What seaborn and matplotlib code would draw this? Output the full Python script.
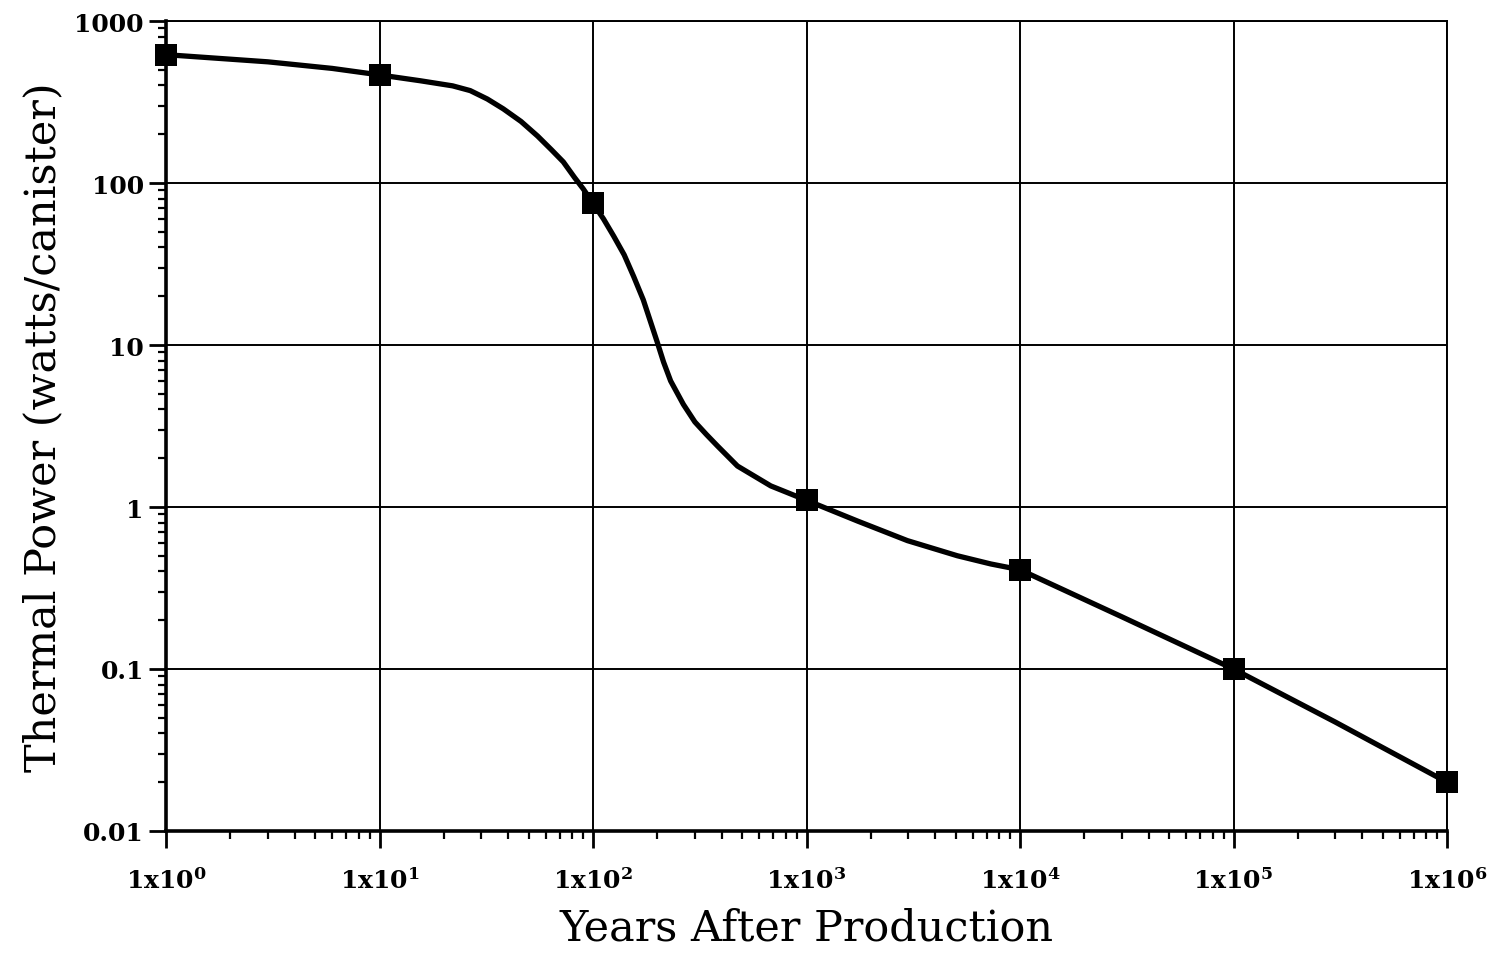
import numpy as np
import pandas as pd
import matplotlib
matplotlib.use("Agg")
import matplotlib.pyplot as plt
import seaborn as sns
from matplotlib.ticker import LogLocator, FixedLocator, FixedFormatter, NullFormatter

# Marker points (years, watts/canister)
marker_years = [1, 10, 100, 1000, 1e4, 1e5, 1e6]
marker_power = [620, 465, 75, 1.1, 0.41, 0.10, 0.020]

# Curve points
curve_years = [1, 3, 6, 10, 15.5, 22, 26.6, 32, 38, 46, 55, 64, 72.6, 82, 90, 100,
               112, 125, 140, 155, 172, 186, 200, 214, 231, 265, 300, 340, 383, 475, 680,
               1000, 1730, 2970, 5090, 7300, 10000, 30000, 100000, 300000, 1000000]
curve_power = [620, 560, 510, 465, 428, 398, 372, 330, 287, 240, 195, 160, 135, 108, 92, 75,
               60, 47, 36, 26.5, 19.0, 13.9, 10.4, 7.85, 6.0, 4.3, 3.35, 2.8, 2.38, 1.79, 1.35,
               1.1, 0.82, 0.62, 0.50, 0.445, 0.41, 0.21, 0.10, 0.047, 0.020]

x_ticks = [1, 10, 100, 1000, 1e4, 1e5, 1e6]
x_tick_labels = [f"1x10$^{{\\mathbf{{{k}}}}}$" for k in range(7)]
y_ticks = [0.01, 0.1, 1, 10, 100, 1000]
y_tick_labels = ["0.01", "0.1", "1", "10", "100", "1000"]

sns.set_style("ticks")
plt.rcParams["font.family"] = ["DejaVu Serif"]
plt.rcParams["mathtext.fontset"] = "dejavuserif"

fig = plt.figure(figsize=(14.97, 9.54), dpi=100)
ax = fig.add_axes([0.1109, 0.1279, 0.9666 - 0.1109, 0.9769 - 0.1279])

curve_df = pd.DataFrame({"years": curve_years, "power": curve_power})
marker_df = pd.DataFrame({"years": marker_years, "power": marker_power})

ax.set_xscale("log")
ax.set_yscale("log")
ax.set_xlim(1, 1e6)
ax.set_ylim(0.01, 1000)

ax.grid(True, which="major", color="black", linewidth=1.4)
ax.set_axisbelow(True)

sns.lineplot(data=curve_df, x="years", y="power", ax=ax, color="black",
             linewidth=3.8, sort=False, estimator=None, zorder=3)
sns.scatterplot(data=marker_df, x="years", y="power", ax=ax, marker="s",
                s=230, color="black", edgecolor="black", linewidth=0, zorder=4,
                clip_on=False)

ax.xaxis.set_major_locator(FixedLocator(x_ticks))
ax.xaxis.set_major_formatter(FixedFormatter(x_tick_labels))
ax.yaxis.set_major_locator(FixedLocator(y_ticks))
ax.yaxis.set_major_formatter(FixedFormatter(y_tick_labels))
ax.xaxis.set_minor_locator(LogLocator(base=10, subs=np.arange(2, 10), numticks=20))
ax.yaxis.set_minor_locator(LogLocator(base=10, subs=np.arange(2, 10), numticks=20))
ax.xaxis.set_minor_formatter(NullFormatter())
ax.yaxis.set_minor_formatter(NullFormatter())

ax.tick_params(axis="both", which="major", direction="out", length=12, width=2,
               color="black", labelsize=18, labelcolor="black")
ax.tick_params(axis="x", which="major", pad=14)
ax.tick_params(axis="y", which="major", pad=4)
ax.tick_params(axis="both", which="minor", direction="out", length=6, width=1.6,
               color="black")
for lab in ax.get_xticklabels() + ax.get_yticklabels():
    lab.set_fontweight("bold")

for side in ["left", "bottom"]:
    ax.spines[side].set_linewidth(2.6)
    ax.spines[side].set_color("black")
for side in ["top", "right"]:
    ax.spines[side].set_linewidth(1.4)
    ax.spines[side].set_color("black")
    ax.spines[side].set_visible(True)

ax.set_xlabel("Years After Production", fontsize=31, labelpad=10, color="black")
ax.set_ylabel("Thermal Power (watts/canister)", fontsize=31, labelpad=7, color="black")

fig.savefig("out.png", dpi=100, facecolor="white")
